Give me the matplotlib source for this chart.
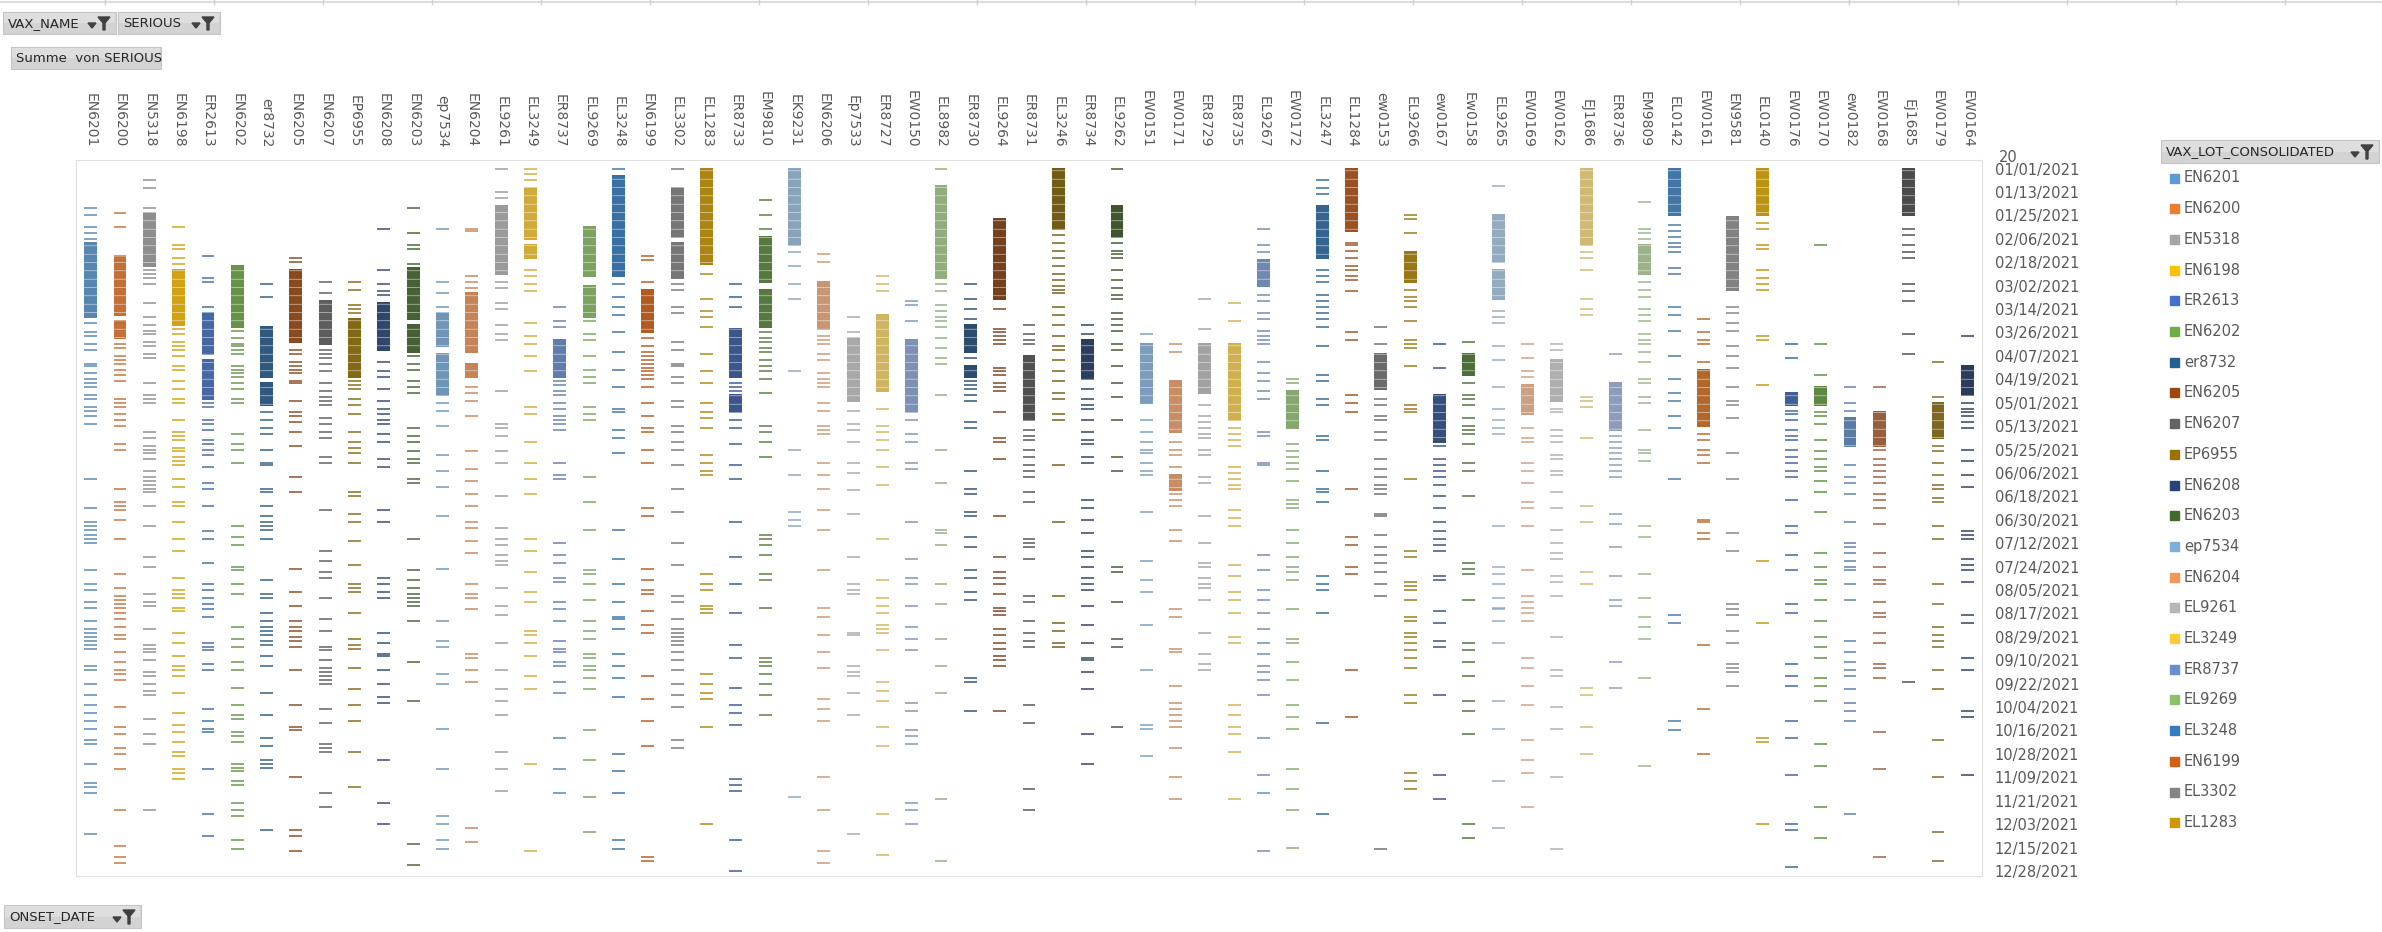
import matplotlib
matplotlib.use("Agg")
import matplotlib.pyplot as plt
from matplotlib.patches import Rectangle, Polygon
from matplotlib.colors import to_rgb

W, H = 2382, 932

# lots along the top, in chart order
lots = ["EN6201", "EN6200", "EN5318", "EN6198", "ER2613", "EN6202", "er8732", "EN6205",
        "EN6207", "EP6955", "EN6208", "EN6203", "ep7534", "EN6204", "EL9261", "EL3249",
        "ER8737", "EL9269", "EL3248", "EN6199", "EL3302", "EL1283", "ER8733", "EM9810",
        "EK9231", "EN6206", "Ep7533", "ER8727", "EW0150", "EL8982", "ER8730", "EL9264",
        "ER8731", "EL3246", "ER8734", "EL9262", "EW0151", "EW0171", "ER8729", "ER8735",
        "EL9267", "EW0172", "EL3247", "EL1284", "ew0153", "EL9266", "ew0167", "Ew0158",
        "EL9265", "EW0169", "EW0162", "EJ1686", "ER8736", "EM9809", "EL0142", "EW0161",
        "EN9581", "EL0140", "EW0176", "EW0170", "ew0182", "EW0168", "Ej1685", "EW0179",
        "EW0164"]

colors = ["#5B9BD5", "#ED7D31", "#A5A5A5", "#FFC000", "#4472C4", "#70AD47",
          "#255E91", "#9E480E", "#636363", "#997300", "#264478", "#43682B",
          "#7CAFDD", "#F1975A", "#B7B7B7", "#FFCD33", "#698ED0", "#8CC168",
          "#327DC2", "#D26012", "#848484", "#CC9A00", "#335AA1", "#5A8A39",
          "#9DC3E6", "#F4B183", "#C9C9C9", "#FFD966", "#8FAADC", "#A9D18E",
          "#1F4E79", "#843C0C", "#525252", "#7F6000", "#203864", "#385723",
          "#8CB9E2", "#F2A46F", "#C0C0C0", "#FFD34D", "#7C9CD6", "#9AC97B",
          "#2B6EA9", "#B85410", "#747474", "#B38600", "#2D4F8D", "#4E7932",
          "#ADCDEA", "#F6BE98", "#D2D2D2", "#FFE080", "#A2B9E2", "#B7D8A1",
          "#3E85C6", "#D9711F", "#959595", "#E6AD00", "#3A65B5", "#63A03C",
          "#5F8FC3", "#B4643A", "#4A4A4A", "#8F6F10", "#1E3560"]

# onset day (0 = 01/01/2021): dense runs (first, last) and isolated days, per lot
bands = [
    [(38, 76)], [(46, 75), (78, 87)], [(23, 50)], [(52, 80)], [(74, 95), (98, 118)],
    [(50, 81)], [(81, 107), (110, 121)], [(52, 89)], [(68, 90)], [(77, 107)],
    [(69, 93)], [(51, 77), (80, 94)], [(74, 91), (95, 116)], [(64, 94), (100, 107)], [(19, 54)],
    [(10, 36), (39, 46)], [(88, 107)], [(30, 55), (60, 76)], [(4, 55)], [(62, 84)],
    [(10, 35), (38, 56)], [(0, 49)], [(82, 107), (116, 125)], [(35, 58), (62, 81)], [(0, 39)],
    [(58, 82)], [(87, 119)], [(75, 114)], [(88, 125)], [(9, 56)],
    [(80, 94), (101, 107)], [(26, 67)], [(96, 129)], [(0, 31)], [(88, 108)],
    [(19, 35)], [(90, 120)], [(109, 135), (157, 165)], [(90, 115)], [(90, 129)],
    [(47, 60)], [(114, 133)], [(19, 46)], [(0, 32)], [(95, 113)],
    [(43, 58)], [(116, 140)], [(95, 106)], [(24, 48), (52, 67)], [(111, 126)],
    [(98, 119)], [(0, 39)], [(110, 134)], [(39, 54)], [(0, 24)],
    [(103, 132)], [(25, 62)], [(0, 24)], [(115, 121)], [(112, 121)],
    [(128, 142)], [(125, 142)], [(0, 24)], [(120, 138)], [(101, 116)],
]

singles = [
    [20, 24, 30, 33, 36, 79, 84, 86, 90, 93, 100, 101, 105, 108, 110, 112, 116, 118, 122, 124, 127, 131, 159, 174, 181, 183, 185, 188, 190, 192, 206, 213, 216, 222, 225, 232, 236, 238, 240, 242, 244, 246, 255, 257, 264, 270, 275, 279, 283, 287, 293, 295, 305, 315, 317, 320, 341],
    [23, 30, 45, 90, 92, 96, 98, 100, 103, 106, 109, 118, 120, 122, 126, 129, 132, 141, 144, 164, 171, 173, 175, 180, 190, 208, 215, 219, 221, 223, 225, 228, 231, 235, 239, 241, 248, 253, 257, 259, 262, 276, 286, 290, 297, 300, 308, 329, 347, 353, 356],
    [6, 10, 20, 52, 54, 56, 59, 69, 76, 80, 83, 85, 89, 91, 95, 97, 110, 116, 118, 120, 135, 138, 142, 144, 146, 149, 155, 158, 160, 162, 164, 166, 173, 183, 199, 204, 218, 222, 224, 236, 244, 246, 248, 252, 258, 260, 264, 268, 270, 282, 290, 295, 329],
    [30, 39, 41, 46, 49, 82, 85, 89, 91, 93, 96, 101, 103, 109, 113, 118, 120, 129, 135, 137, 139, 143, 145, 148, 150, 152, 159, 163, 171, 173, 181, 190, 196, 210, 216, 218, 220, 225, 227, 238, 243, 250, 255, 257, 260, 269, 279, 285, 289, 294, 299, 301, 308, 310, 313],
    [45, 56, 58, 71, 120, 122, 129, 131, 134, 139, 141, 144, 147, 153, 161, 164, 173, 186, 190, 202, 213, 216, 220, 223, 226, 230, 243, 245, 247, 254, 257, 277, 283, 287, 289, 308, 331, 342],
    [83, 87, 90, 91, 93, 95, 101, 103, 105, 107, 110, 113, 118, 120, 136, 141, 144, 151, 183, 189, 193, 204, 206, 213, 218, 235, 241, 245, 253, 257, 266, 275, 280, 282, 289, 291, 294, 305, 307, 309, 314, 316, 325, 329, 332, 344, 349],
    [59, 66, 125, 129, 133, 136, 144, 151, 152, 164, 166, 173, 178, 181, 183, 185, 190, 211, 218, 220, 228, 232, 235, 237, 239, 242, 244, 250, 255, 269, 280, 292, 296, 303, 305, 307, 339],
    [46, 48, 93, 95, 99, 101, 103, 105, 109, 110, 119, 125, 127, 130, 135, 142, 158, 166, 205, 217, 224, 232, 235, 237, 240, 242, 245, 257, 275, 286, 288, 312, 339, 342, 350],
    [58, 64, 93, 95, 97, 100, 104, 110, 114, 117, 119, 121, 128, 131, 135, 138, 148, 151, 175, 196, 201, 207, 210, 220, 231, 237, 245, 247, 252, 256, 258, 260, 262, 264, 277, 284, 295, 297, 299, 320, 327],
    [58, 62, 70, 72, 74, 109, 111, 113, 118, 121, 126, 135, 140, 143, 146, 151, 166, 168, 177, 181, 191, 203, 213, 215, 217, 228, 241, 244, 246, 256, 267, 275, 283, 299, 317],
    [31, 52, 59, 63, 65, 99, 104, 107, 113, 119, 123, 126, 129, 131, 136, 140, 149, 153, 175, 181, 210, 213, 217, 220, 238, 243, 249, 250, 257, 264, 271, 274, 303, 325, 336],
    [20, 33, 39, 41, 49, 96, 100, 103, 109, 112, 115, 133, 137, 140, 145, 149, 151, 159, 161, 190, 206, 211, 215, 218, 220, 222, 224, 232, 253, 273, 346, 357],
    [31, 58, 64, 71, 120, 124, 132, 147, 155, 163, 178, 205, 232, 242, 245, 259, 264, 287, 308, 332, 336, 344, 349],
    [31, 32, 55, 58, 61, 112, 115, 119, 127, 145, 154, 160, 167, 173, 181, 184, 191, 197, 213, 218, 220, 226, 249, 251, 257, 263, 338, 345],
    [0, 12, 15, 58, 61, 69, 72, 80, 85, 88, 114, 131, 133, 137, 145, 151, 168, 184, 190, 193, 198, 201, 203, 215, 224, 229, 243, 257, 267, 273, 280, 299, 308, 319],
    [0, 3, 6, 52, 55, 59, 63, 79, 86, 90, 96, 104, 122, 126, 140, 151, 159, 167, 190, 196, 207, 217, 222, 237, 239, 243, 250, 260, 267, 305, 350],
    [71, 78, 81, 109, 111, 114, 116, 120, 123, 127, 129, 131, 134, 151, 157, 159, 192, 198, 202, 210, 212, 222, 226, 232, 242, 246, 248, 253, 255, 263, 269, 292, 308, 320],
    [78, 85, 88, 96, 103, 107, 110, 122, 126, 129, 158, 171, 185, 206, 208, 213, 221, 232, 237, 241, 249, 251, 255, 257, 261, 267, 288, 303, 322, 340],
    [0, 59, 66, 71, 75, 84, 94, 103, 112, 123, 125, 134, 138, 146, 185, 200, 213, 222, 230, 231, 236, 249, 255, 261, 271, 300, 309, 320, 344, 349],
    [45, 47, 58, 87, 91, 94, 96, 98, 100, 102, 104, 106, 108, 112, 120, 127, 133, 135, 144, 151, 174, 178, 205, 211, 216, 218, 227, 234, 238, 260, 272, 283, 296, 353, 355],
    [0, 59, 62, 71, 74, 89, 93, 100, 101, 107, 110, 119, 122, 132, 135, 140, 144, 152, 164, 176, 192, 203, 219, 222, 231, 236, 238, 240, 242, 244, 248, 252, 257, 264, 270, 276, 293, 297],
    [54, 67, 73, 76, 81, 95, 104, 110, 120, 125, 128, 133, 147, 151, 155, 157, 208, 213, 216, 224, 226, 228, 259, 264, 269, 272, 286, 336],
    [59, 66, 71, 110, 112, 114, 129, 133, 141, 152, 159, 181, 199, 213, 228, 244, 251, 266, 275, 279, 285, 313, 316, 319, 344, 360],
    [16, 24, 31, 84, 87, 89, 92, 94, 98, 101, 104, 108, 115, 132, 135, 140, 148, 188, 190, 193, 198, 208, 211, 225, 251, 253, 255, 259, 264, 270, 280],
    [43, 50, 59, 67, 104, 144, 157, 176, 180, 183, 322],
    [44, 48, 86, 88, 90, 95, 98, 105, 108, 110, 112, 120, 124, 132, 134, 136, 151, 157, 164, 175, 185, 206, 225, 230, 239, 248, 256, 272, 277, 283, 312, 329, 350, 356],
    [76, 84, 124, 131, 134, 140, 151, 156, 165, 177, 199, 213, 216, 218, 238, 239, 255, 258, 260, 269, 280, 341],
    [55, 59, 63, 123, 132, 135, 139, 144, 153, 162, 190, 211, 220, 224, 228, 234, 236, 238, 247, 263, 268, 273, 286, 296, 331, 352],
    [68, 70, 78, 129, 136, 140, 151, 154, 181, 200, 210, 213, 224, 235, 241, 247, 274, 278, 288, 291, 295, 325, 329, 336],
    [0, 59, 63, 70, 73, 76, 78, 81, 87, 92, 97, 100, 116, 144, 161, 185, 187, 193, 213, 223, 241, 255, 269, 323, 355],
    [59, 67, 72, 77, 97, 109, 111, 113, 116, 119, 130, 133, 155, 164, 167, 176, 178, 189, 194, 206, 210, 217, 221, 261, 263, 278],
    [72, 82, 84, 86, 88, 90, 102, 104, 106, 110, 112, 114, 125, 138, 140, 149, 178, 199, 207, 210, 213, 218, 225, 227, 229, 236, 239, 243, 246, 250, 252, 255, 278],
    [80, 85, 88, 90, 134, 137, 139, 144, 148, 152, 155, 158, 166, 171, 190, 192, 194, 200, 219, 222, 232, 238, 242, 245, 275, 284, 318, 329],
    [34, 38, 42, 46, 50, 54, 57, 60, 62, 64, 71, 75, 80, 86, 91, 93, 98, 104, 109, 115, 118, 126, 129, 152, 181, 219, 233, 237, 243, 245],
    [80, 85, 113, 118, 121, 123, 129, 135, 139, 141, 148, 151, 170, 174, 180, 187, 196, 199, 204, 210, 213, 216, 224, 234, 243, 251, 252, 258, 267, 290, 305],
    [0, 38, 42, 44, 46, 52, 57, 61, 65, 67, 74, 77, 80, 83, 90, 93, 101, 110, 117, 129, 148, 155, 204, 207, 222, 241, 245, 286],
    [85, 129, 135, 140, 144, 146, 151, 155, 157, 176, 201, 211, 217, 234, 257, 285, 287, 301],
    [90, 94, 140, 144, 147, 153, 167, 170, 173, 185, 191, 226, 230, 246, 248, 265, 274, 277, 280, 283, 286, 297, 312, 323],
    [67, 82, 121, 127, 130, 133, 136, 138, 144, 147, 158, 161, 178, 192, 202, 204, 210, 213, 215, 221, 238, 249, 254, 257],
    [69, 78, 133, 136, 139, 142, 153, 156, 159, 162, 164, 175, 179, 183, 203, 209, 217, 221, 228, 240, 243, 275, 280, 286, 290, 299, 323],
    [31, 39, 43, 65, 68, 74, 77, 83, 86, 88, 90, 99, 105, 109, 114, 118, 135, 137, 151, 152, 198, 206, 216, 221, 228, 236, 243, 249, 255, 258, 262, 270, 292, 311, 320, 350],
    [108, 110, 141, 145, 148, 151, 154, 160, 170, 172, 174, 185, 192, 199, 204, 207, 211, 226, 241, 243, 253, 262, 275, 281, 287, 308, 318, 329, 348],
    [6, 10, 13, 52, 55, 58, 65, 68, 71, 74, 77, 81, 91, 106, 109, 118, 121, 137, 139, 155, 164, 166, 171, 209, 213, 216, 228, 284, 331],
    [38, 39, 42, 46, 50, 52, 55, 57, 63, 84, 88, 116, 120, 125, 164, 189, 193, 204, 208, 257, 281],
    [81, 90, 118, 121, 127, 129, 135, 139, 149, 154, 158, 162, 164, 167, 177, 178, 188, 194, 198, 202, 207, 213, 219, 349],
    [24, 26, 33, 62, 66, 68, 71, 78, 88, 90, 92, 101, 121, 123, 125, 159, 196, 199, 212, 214, 216, 221, 230, 232, 238, 240, 243, 247, 251, 256, 270, 274, 310, 314, 318],
    [90, 102, 142, 149, 152, 155, 158, 162, 168, 174, 181, 186, 190, 193, 196, 209, 211, 227, 233, 242, 245, 270, 311, 323],
    [89, 110, 116, 118, 121, 128, 132, 134, 136, 141, 151, 155, 168, 202, 205, 208, 221, 243, 247, 253, 260, 273, 278, 290, 336, 343],
    [9, 73, 76, 79, 91, 98, 112, 123, 129, 133, 136, 183, 204, 208, 213, 220, 225, 226, 232, 243, 273, 287, 314, 338],
    [90, 97, 104, 107, 133, 138, 140, 151, 155, 161, 171, 174, 183, 206, 219, 222, 225, 228, 232, 251, 256, 265, 275, 293, 303, 310, 327],
    [90, 93, 123, 125, 134, 137, 140, 147, 149, 155, 157, 166, 174, 185, 192, 197, 200, 209, 212, 219, 240, 257, 260, 276, 287, 312, 349],
    [43, 46, 52, 67, 72, 75, 117, 119, 122, 138, 173, 181, 207, 213, 266, 270, 286, 300],
    [95, 137, 140, 143, 146, 149, 152, 155, 158, 177, 182, 194, 209, 221, 224, 253, 266],
    [17, 31, 33, 36, 58, 62, 66, 72, 75, 78, 85, 88, 90, 94, 99, 108, 110, 117, 120, 134, 144, 146, 150, 183, 189, 208, 220, 230, 235, 241, 261, 306],
    [29, 32, 35, 38, 40, 43, 51, 54, 71, 75, 83, 96, 108, 115, 119, 127, 133, 159, 229, 233, 283, 288],
    [77, 84, 88, 90, 99, 136, 139, 144, 147, 151, 180, 181, 187, 190, 244, 277, 300],
    [71, 74, 79, 83, 91, 96, 102, 112, 119, 121, 128, 146, 159, 187, 196, 223, 226, 229, 237, 243, 254, 256, 258, 265],
    [28, 31, 39, 41, 52, 56, 59, 62, 86, 88, 111, 201, 233, 292, 294, 336],
    [90, 97, 124, 126, 129, 134, 137, 139, 144, 148, 151, 155, 158, 170, 183, 187, 198, 206, 223, 228, 254, 260, 265, 283, 292, 311, 336, 339, 358],
    [39, 90, 106, 125, 127, 131, 139, 145, 149, 153, 155, 160, 166, 176, 197, 204, 211, 213, 221, 232, 240, 245, 251, 261, 265, 273, 295, 306, 327, 343],
    [112, 120, 124, 152, 158, 161, 167, 181, 192, 194, 197, 201, 204, 206, 213, 221, 242, 248, 253, 257, 260, 267, 274, 278, 283, 331],
    [112, 144, 149, 152, 155, 158, 161, 167, 170, 174, 182, 197, 204, 211, 213, 222, 228, 230, 238, 243, 254, 256, 261, 289, 308, 353],
    [31, 34, 39, 43, 46, 59, 63, 68, 85, 95, 263],
    [99, 117, 142, 145, 151, 157, 162, 164, 169, 171, 183, 190, 213, 223, 235, 239, 242, 245, 257, 267, 293, 312, 340, 355],
    [86, 120, 123, 125, 127, 130, 133, 144, 150, 157, 163, 186, 188, 190, 200, 203, 206, 212, 229, 233, 251, 257, 278, 281, 311],
]

date_labels = ["01/01/2021", "01/13/2021", "01/25/2021", "02/06/2021", "02/18/2021",
               "03/02/2021", "03/14/2021", "03/26/2021", "04/07/2021", "04/19/2021",
               "05/01/2021", "05/13/2021", "05/25/2021", "06/06/2021", "06/18/2021",
               "06/30/2021", "07/12/2021", "07/24/2021", "08/05/2021", "08/17/2021",
               "08/29/2021", "09/10/2021", "09/22/2021", "10/04/2021", "10/16/2021",
               "10/28/2021", "11/09/2021", "11/21/2021", "12/03/2021", "12/15/2021",
               "12/28/2021"]

legend_count = 22
TXT = "#595959"


def shade(c, f=0.8):
    r, g, b = to_rgb(c)
    return (r * f, g * f, b * f)


plt.rcParams["hatch.linewidth"] = 0.35
fig = plt.figure(figsize=(W / 100, H / 100), dpi=100)

# plot area
ax = fig.add_axes([76 / W, 1 - 876 / H, (1982 - 76) / W, (876 - 160) / H])
ax.set_xlim(-0.5, len(lots) - 0.5)
ax.set_ylim(362.6, -4.4)

for i, col in enumerate(colors):
    mc = shade(col)
    for s, e in bands[i]:
        ax.bar(i, e - s + 1, bottom=s - 0.5, width=0.44, color=mc, alpha=0.92,
               edgecolor="white", linewidth=0, hatch="--")
    ax.hlines(singles[i], i - 0.22, i + 0.22, colors=[mc], lw=1.3, alpha=0.75)

ax.xaxis.tick_top()
ax.set_xticks(range(len(lots)))
ax.set_xticklabels(lots, rotation=-90, fontsize=10, color=TXT)
ax.yaxis.tick_right()
ax.set_yticks(range(0, 12 * len(date_labels), 12))
ax.set_yticklabels(date_labels, fontsize=10.5, color=TXT)
ax.tick_params(axis="x", length=0, pad=9)
ax.tick_params(axis="y", length=0, pad=9)
for sp in ax.spines.values():
    sp.set_color("#E0E0E0")
    sp.set_linewidth(0.8)

# overlay in pixel units for the pivot buttons and legend
ov = fig.add_axes([0, 0, 1, 1])
ov.set_xlim(0, W)
ov.set_ylim(H, 0)
ov.axis("off")


def button(x0, y0, x1, y1, label, icons=True):
    ov.add_patch(Rectangle((x0, y0), x1 - x0, y1 - y0, facecolor="#D3D3D3",
                           edgecolor="#C4C4C4", lw=0.8))
    ov.add_patch(Rectangle((x0 + 1, y0 + 1), x1 - x0 - 2, (y1 - y0) / 2 - 1,
                           facecolor="#DEDEDE", edgecolor="none"))
    ov.text(x0 + 5, (y0 + y1) / 2 + 0.5, label, fontsize=9.5, color="#262626",
            ha="left", va="center")
    if icons:
        fx = x1 - 18
        ov.add_patch(Polygon([(fx, y0 + 5), (fx + 12, y0 + 5), (fx + 7, y0 + 11),
                              (fx + 7, y1 - 4), (fx + 5, y1 - 4), (fx + 5, y0 + 11)],
                             closed=True, color="#404040"))
        axx = x1 - 28
        ov.add_patch(Polygon([(axx, y1 - 11), (axx + 8, y1 - 11), (axx + 4, y1 - 6)],
                             closed=True, color="#404040"))


button(3, 12, 116, 34, "VAX_NAME")
button(118, 12, 220, 34, "SERIOUS")
button(11, 47, 161, 69, "Summe  von SERIOUS", icons=False)
button(4, 905, 141, 928, "ONSET_DATE")
button(2161, 140, 2379, 163, "VAX_LOT_CONSOLIDATED")

# sheet edge at the very top
ov.plot([0, W], [1.5, 1.5], color="#DCDCDC", lw=1.5)
for x in range(105, W, 109):
    ov.plot([x, x], [0, 4], color="#D0D0D0", lw=1)

ov.text(2008, 157, "20", fontsize=10.5, color=TXT, ha="center", va="center")

# legend
for k in range(legend_count):
    y = 178 + k * 30.7
    ov.add_patch(Rectangle((2170, y - 4.5), 9, 9, color=colors[k]))
    ov.text(2184, y, lots[k], fontsize=10.5, color=TXT, ha="left", va="center")

fig.savefig("out.png", dpi=100)
